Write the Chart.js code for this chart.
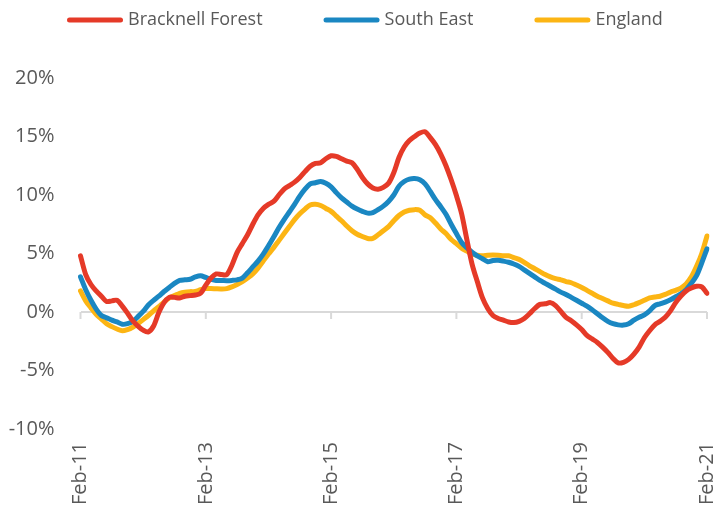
<!DOCTYPE html>
<html>
<head>
<meta charset="utf-8">
<script src="https://cdn.jsdelivr.net/npm/chart.js@4/dist/chart.umd.min.js"></script>
<style>
html,body{margin:0;padding:0;background:#ffffff;}
#wrap{width:716px;height:511px;}
</style>
</head>
<body>
<div id="wrap"><canvas id="c" width="716" height="511"></canvas></div>
<script>
const categories = [
  'Feb-11','Mar-11','Apr-11','May-11','Jun-11','Jul-11','Aug-11','Sep-11','Oct-11','Nov-11','Dec-11',
  'Jan-12','Feb-12','Mar-12','Apr-12','May-12','Jun-12','Jul-12','Aug-12','Sep-12','Oct-12','Nov-12','Dec-12',
  'Jan-13','Feb-13','Mar-13','Apr-13','May-13','Jun-13','Jul-13','Aug-13','Sep-13','Oct-13','Nov-13','Dec-13',
  'Jan-14','Feb-14','Mar-14','Apr-14','May-14','Jun-14','Jul-14','Aug-14','Sep-14','Oct-14','Nov-14','Dec-14',
  'Jan-15','Feb-15','Mar-15','Apr-15','May-15','Jun-15','Jul-15','Aug-15','Sep-15','Oct-15','Nov-15','Dec-15',
  'Jan-16','Feb-16','Mar-16','Apr-16','May-16','Jun-16','Jul-16','Aug-16','Sep-16','Oct-16','Nov-16','Dec-16',
  'Jan-17','Feb-17','Mar-17','Apr-17','May-17','Jun-17','Jul-17','Aug-17','Sep-17','Oct-17','Nov-17','Dec-17',
  'Jan-18','Feb-18','Mar-18','Apr-18','May-18','Jun-18','Jul-18','Aug-18','Sep-18','Oct-18','Nov-18','Dec-18',
  'Jan-19','Feb-19','Mar-19','Apr-19','May-19','Jun-19','Jul-19','Aug-19','Sep-19','Oct-19','Nov-19','Dec-19',
  'Jan-20','Feb-20','Mar-20','Apr-20','May-20','Jun-20','Jul-20','Aug-20','Sep-20','Oct-20','Nov-20','Dec-20',
  'Jan-21','Feb-21'
];

// Shown x tick labels (every 24 months)
const xTickLabels = ['Feb-11','Feb-13','Feb-15','Feb-17','Feb-19','Feb-21'];

const seriesNames = ['Bracknell Forest','South East','England'];

const bracknellForest = [
  4.8, 3.2, 2.35, 1.8, 1.35, 0.9, 0.95, 1.0, 0.5, -0.1,
  -0.75, -1.2, -1.55, -1.7, -1.2, -0.05, 0.8, 1.25, 1.25, 1.2,
  1.35, 1.4, 1.45, 1.6, 2.3, 2.9, 3.25, 3.2, 3.2, 4.0,
  5.1, 5.85, 6.6, 7.5, 8.3, 8.85, 9.2, 9.45, 10.0, 10.5,
  10.8, 11.1, 11.5, 12.0, 12.45, 12.7, 12.75, 13.1, 13.35, 13.3,
  13.1, 12.9, 12.75, 12.2, 11.5, 10.95, 10.6, 10.5, 10.65, 11.0,
  11.9, 13.2, 14.1, 14.65, 15.0, 15.3, 15.4, 14.9, 14.3, 13.5,
  12.5, 11.3, 9.95, 8.4, 6.2, 4.1, 2.6, 1.2, 0.3, -0.3,
  -0.55, -0.7, -0.85, -0.9, -0.8, -0.55, -0.15, 0.3, 0.65, 0.7,
  0.8, 0.55, 0.05, -0.45, -0.75, -1.1, -1.5, -2.0, -2.3, -2.6,
  -3.0, -3.45, -3.97, -4.35, -4.3, -4.05, -3.6, -3.0, -2.2, -1.6,
  -1.1, -0.8, -0.45, 0.1, 0.8, 1.35, 1.8, 2.05, 2.2, 2.15,
  1.6
];

const southEast = [
  3.0, 1.9, 1.0, 0.25, -0.3, -0.5, -0.7, -0.85, -1.05, -1.0,
  -0.8, -0.4, 0.05, 0.6, 1.0, 1.35, 1.75, 2.1, 2.45, 2.7,
  2.75, 2.8, 3.0, 3.1, 2.95, 2.8, 2.7, 2.7, 2.68, 2.7,
  2.75, 2.9, 3.35, 3.85, 4.35, 4.95, 5.65, 6.4, 7.2, 7.9,
  8.55, 9.2, 9.9, 10.5, 10.95, 11.05, 11.15, 11.0, 10.7, 10.2,
  9.75, 9.4, 9.05, 8.8, 8.6, 8.45, 8.5, 8.75, 9.05, 9.45,
  10.0, 10.75, 11.15, 11.35, 11.4, 11.3, 10.95, 10.3, 9.6, 9.0,
  8.35, 7.5, 6.7, 5.95, 5.5, 5.1, 4.8, 4.55, 4.3, 4.4,
  4.42, 4.35, 4.25, 4.1, 3.9, 3.6, 3.3, 3.0, 2.7, 2.45,
  2.2, 1.95, 1.7, 1.5, 1.25, 1.0, 0.75, 0.5, 0.2, -0.15,
  -0.5, -0.8, -1.0, -1.1, -1.12, -1.0, -0.7, -0.45, -0.25, 0.1,
  0.55, 0.7, 0.85, 1.05, 1.3, 1.55, 1.9, 2.45, 3.1, 4.2,
  5.4
];

const england = [
  1.8, 0.95, 0.35, -0.2, -0.6, -1.0, -1.25, -1.45, -1.6, -1.5,
  -1.3, -1.0, -0.65, -0.3, 0.1, 0.45, 0.85, 1.2, 1.4, 1.6,
  1.7, 1.74, 1.75, 1.9, 2.0, 2.0, 1.98, 1.97, 2.0, 2.15,
  2.35, 2.6, 2.9, 3.25, 3.75, 4.35, 4.95, 5.5, 6.1, 6.7,
  7.3, 7.9, 8.4, 8.8, 9.15, 9.2, 9.1, 8.85, 8.6, 8.2,
  7.8, 7.35, 6.95, 6.65, 6.45, 6.28, 6.3, 6.6, 6.95, 7.3,
  7.8, 8.25, 8.55, 8.7, 8.75, 8.7, 8.3, 8.05, 7.6, 7.1,
  6.7, 6.2, 5.85, 5.45, 5.2, 4.95, 4.85, 4.8, 4.85, 4.87,
  4.85, 4.8, 4.8, 4.65, 4.5, 4.25, 3.95, 3.7, 3.45, 3.2,
  3.0, 2.85, 2.75, 2.6, 2.5, 2.3, 2.1, 1.85, 1.6, 1.35,
  1.15, 0.95, 0.75, 0.65, 0.55, 0.5, 0.62, 0.8, 1.0, 1.2,
  1.28, 1.35, 1.5, 1.7, 1.85, 2.05, 2.4, 3.0, 3.9, 5.0,
  6.5
];

const yMin = -10, yMax = 20, yStep = 5;

const COLORS = ['#E53A28', '#1A87C2', '#FCB514'];
const TEXT = '#595959';
const GRID = '#D9D9D9';
const FONT = "'Open Sans', 'Noto Sans', sans-serif";

// Legend drawn in the chart canvas (line swatch + label)
const customLegend = {
  id: 'customLegend',
  afterDraw(chart) {
    const ctx = chart.ctx;
    ctx.save();
    ctx.font = '18px ' + FONT;
    ctx.textBaseline = 'middle';
    ctx.textAlign = 'left';
    let x = 67;
    const y = 20;
    chart.data.datasets.forEach(ds => {
      ctx.strokeStyle = ds.borderColor;
      ctx.lineWidth = 5;
      ctx.lineCap = 'round';
      ctx.beginPath();
      ctx.moveTo(x + 2.5, y);
      ctx.lineTo(x + 53.5, y);
      ctx.stroke();
      ctx.fillStyle = TEXT;
      ctx.fillText(ds.label, x + 61, y);
      x += 61 + ctx.measureText(ds.label).width + 61;
    });
    ctx.restore();
  }
};

// Small tick marks hanging under the zero line at labelled categories
const zeroTicks = {
  id: 'zeroTicks',
  beforeDatasetsDraw(chart) {
    const xs = chart.scales.x, ys = chart.scales.y;
    const ctx = chart.ctx;
    const y0 = ys.getPixelForValue(0);
    ctx.save();
    ctx.strokeStyle = GRID;
    ctx.lineWidth = 2;
    categories.forEach((c, i) => {
      if (xTickLabels.includes(c)) {
        const px = xs.getPixelForValue(i);
        ctx.beginPath();
        ctx.moveTo(px, y0);
        ctx.lineTo(px, y0 + 7);
        ctx.stroke();
      }
    });
    ctx.restore();
  }
};

const datasets = [bracknellForest, southEast, england].map((d, k) => ({
  label: seriesNames[k],
  data: d,
  borderColor: COLORS[k],
  backgroundColor: COLORS[k],
  borderWidth: 5,
  pointRadius: 0,
  pointHoverRadius: 0,
  tension: 0.3,
  borderCapStyle: 'round',
  borderJoinStyle: 'round',
  fill: false
}));

new Chart(document.getElementById('c'), {
  type: 'line',
  data: { labels: categories, datasets },
  options: {
    responsive: false,
    animation: false,
    devicePixelRatio: 1,
    layout: { padding: { top: 78, left: 6, right: 9, bottom: 0 } },
    plugins: {
      legend: { display: false },
      tooltip: { enabled: false },
      title: { display: false }
    },
    scales: {
      x: {
        type: 'category',
        grid: { display: false, drawTicks: false },
        border: { display: false },
        ticks: {
          autoSkip: false,
          maxRotation: 90,
          minRotation: 90,
          padding: 13,
          color: TEXT,
          font: { family: FONT, size: 20 },
          callback(value, index) {
            const lab = categories[index];
            return xTickLabels.includes(lab) ? lab : null;
          }
        },
        afterFit(scale) {
          scale.height = 82;
          scale.paddingLeft = 0;
          scale.paddingRight = 0;
        }
      },
      y: {
        min: yMin,
        max: yMax,
        grid: {
          drawTicks: false,
          lineWidth: 2,
          color: (c) => (c.tick && c.tick.value === 0) ? GRID : 'rgba(0,0,0,0)'
        },
        border: { display: false },
        ticks: {
          stepSize: yStep,
          padding: 26,
          color: TEXT,
          font: { family: FONT, size: 20 },
          callback: (v) => v + '%'
        },
        afterFit(scale) { scale.width = 74.5; }
      }
    }
  },
  plugins: [zeroTicks, customLegend]
});
</script>
</body>
</html>
